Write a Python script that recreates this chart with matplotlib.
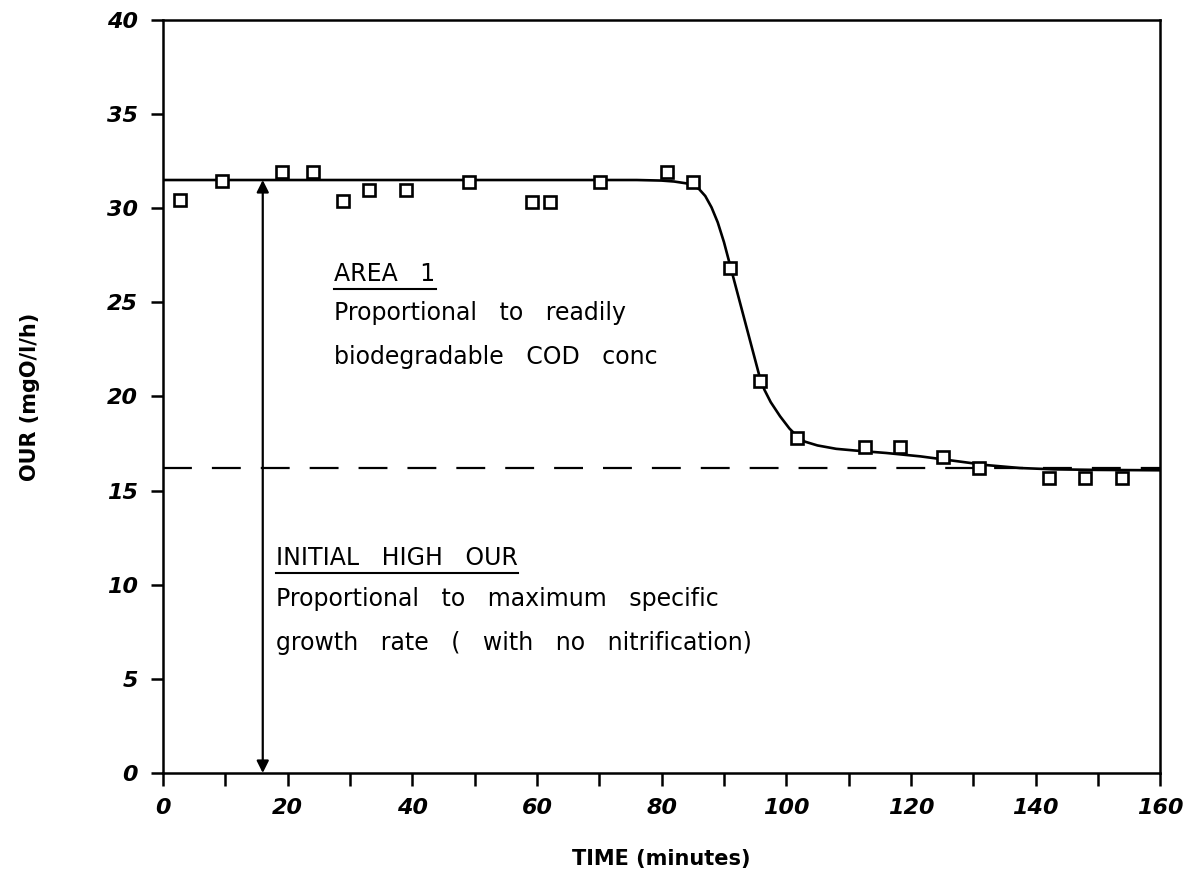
import numpy as np
import matplotlib.pyplot as plt
from matplotlib.ticker import MultipleLocator


time_min = [2.7, 9.4, 19.1, 24.0, 28.9, 33.0, 39.0, 49.1, 59.2, 62.1, 70.1,
            80.8, 85.1, 91.0, 95.8, 101.7, 112.7, 118.3, 125.2, 130.9,
            142.1, 148.0, 153.9]
our = [30.45, 31.45, 31.95, 31.95, 30.4, 30.95, 30.95, 31.4, 30.35, 30.35,
       31.4, 31.9, 31.4, 26.85, 20.8, 17.8, 17.3, 17.3, 16.8, 16.2,
       15.65, 15.65, 15.65]

# Fitted curve
fit_time = [0, 76, 80, 82, 84, 85, 86, 87, 88, 89, 90, 91, 92, 93, 94, 95,
            95.8, 96.5, 97.5, 99, 100.5, 101.7, 103, 105, 108, 111, 116,
            121.5, 127, 132, 137.5, 143, 150, 160]
fit_our = [31.5, 31.5, 31.47, 31.42, 31.32, 31.22, 31.02, 30.65, 30.05,
           29.25, 28.2, 26.95, 25.7, 24.45, 23.2, 21.95, 20.95, 20.35, 19.7,
           18.95, 18.3, 17.9, 17.6, 17.4, 17.22, 17.13, 17.0, 16.82, 16.58,
           16.36, 16.2, 16.13, 16.1, 16.08]

endogenous_our = 16.2
arrow_time = 16.0

fig = plt.figure(figsize=(11.97, 8.81), dpi=100)
ax = fig.add_axes([0.1362, 0.1226, 0.8331, 0.8547])

# data points and fitted curve
ax.plot(fit_time, fit_our, color='black', lw=1.9, zorder=3,
        solid_joinstyle='round')
ax.plot(time_min, our, linestyle='none', marker='s', markersize=8.5,
        markerfacecolor='white', markeredgecolor='black', markeredgewidth=1.9,
        zorder=4)

# endogenous level
ax.axhline(endogenous_our, color='black', lw=1.6, dashes=(13, 9), zorder=2)

# double arrow for initial high OUR
ax.annotate('', xy=(arrow_time, fit_our[0]), xytext=(arrow_time, 0),
            arrowprops=dict(arrowstyle='<|-|>', color='black', lw=1.6,
                            mutation_scale=18, shrinkA=0, shrinkB=0))

font = dict(fontsize=17, color='black')
t1 = ax.text(27.5, 26.15, 'AREA   1', **font)
ax.text(27.5, 24.05, 'Proportional   to   readily', **font)
ax.text(27.5, 21.75, 'biodegradable   COD   conc', **font)
t2 = ax.text(18.2, 11.05, 'INITIAL   HIGH   OUR', **font)
ax.text(18.2, 8.85, 'Proportional   to   maximum   specific', **font)
ax.text(18.2, 6.55, 'growth   rate   (   with   no   nitrification)', **font)

ax.set_xlim(0, 160)
ax.set_ylim(0, 40)
ax.xaxis.set_major_locator(MultipleLocator(20))
ax.xaxis.set_minor_locator(MultipleLocator(10))
ax.yaxis.set_major_locator(MultipleLocator(5))
ax.tick_params(which='both', direction='out', length=9, width=1.8,
               labelsize=16, pad=9)
for lab in ax.get_xticklabels() + ax.get_yticklabels():
    lab.set_fontweight('bold')
    lab.set_fontstyle('italic')
for s in ax.spines.values():
    s.set_linewidth(1.8)

ax.set_xlabel('TIME (minutes)', fontsize=15, fontweight='bold', labelpad=22)
ax.set_ylabel('OUR (mgO/l/h)', fontsize=15, fontweight='bold', labelpad=48)

# underline the two headings
fig.canvas.draw()
inv = ax.transData.inverted()
for t in (t1, t2):
    bb = t.get_window_extent()
    (x0, y0), (x1, _) = inv.transform([(bb.x0, bb.y0 - 3), (bb.x1, bb.y0)])
    ax.plot([x0, x1], [y0, y0], color='black', lw=1.5)

fig.savefig('out.png', dpi=100)
